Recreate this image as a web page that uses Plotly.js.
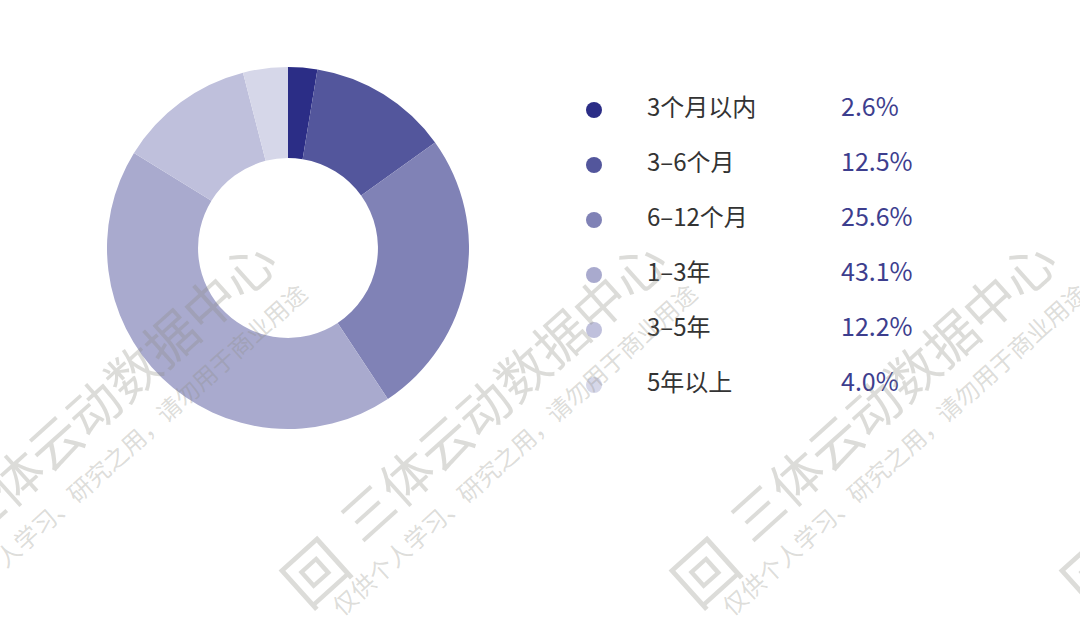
<!DOCTYPE html>
<html>
<head>
<meta charset="utf-8">
<script src="https://cdn.plot.ly/plotly-3.0.1.min.js"></script>
<style>html,body{margin:0;padding:0;background:#fff;}#chart{width:1080px;height:629px;}</style>
</head>
<body>
<div id="chart"></div>
<script>
// ---- data ----
var categories = ["3个月以内", "3–6个月", "6–12个月", "1–3年", "3–5年", "5年以上"];
var shares = [2.6, 12.5, 25.6, 43.1, 12.2, 4.0];
var shareLabels = ["2.6%", "12.5%", "25.6%", "43.1%", "12.2%", "4.0%"];
var colors = ["#2B2D86", "#53569C", "#8082B6", "#A9AACE", "#BFC0DC", "#D6D7E9"];

// ---- layout constants ----
var W = 1080, H = 629;
var FONT = "Noto Sans CJK SC, Noto Sans, sans-serif";
var dotX = 594, labelX = 647, pctX = 841;
var rowTop = 110, rowGap = 55;

var pie = {
  type: "pie",
  values: shares,
  labels: categories,
  sort: false,
  direction: "clockwise",
  rotation: 0,
  hole: 0.497,
  textinfo: "none",
  hoverinfo: "label+percent",
  showlegend: false,
  marker: { colors: colors, line: { width: 0 } },
  domain: { x: [107 / W, 469 / W], y: [(H - 429) / H, (H - 67) / H] }
};

var dots = {
  type: "scatter", mode: "markers",
  x: categories.map(function () { return dotX; }),
  y: categories,
  marker: { size: 16, color: colors },
  hoverinfo: "skip", showlegend: false, cliponaxis: false
};
var labelsTrace = {
  type: "scatter", mode: "text",
  x: categories.map(function () { return labelX; }),
  y: categories,
  text: categories,
  textposition: "middle right",
  textfont: { family: FONT, size: 24, color: "#333333" },
  hoverinfo: "skip", showlegend: false, cliponaxis: false
};
var pctTrace = {
  type: "scatter", mode: "text",
  x: categories.map(function () { return pctX; }),
  y: categories,
  text: shareLabels,
  textposition: "middle right",
  textfont: { family: FONT, size: 25, color: "#3D3E8E" },
  hoverinfo: "skip", showlegend: false, cliponaxis: false
};

// watermark annotations (decoration)
var wmColor = "rgba(140,140,130,0.30)";
var annotations = [];
function wm(ox, oy) {
  function P(px, py) { return { x: (px + ox) / W, y: 1 - (py + oy) / H }; }
  var a = P(501, 388);
  annotations.push({ xref: "paper", yref: "paper", x: a.x, y: a.y, xanchor: "center", yanchor: "middle",
    text: "三体云动数据中心", showarrow: false, textangle: -42,
    font: { family: FONT, size: 52, color: wmColor } });
  var b = P(514, 449);
  annotations.push({ xref: "paper", yref: "paper", x: b.x, y: b.y, xanchor: "center", yanchor: "middle",
    text: "仅供个人学习、研究之用，请勿用于商业用途", showarrow: false, textangle: -42,
    font: { family: FONT, size: 24, color: wmColor } });
  var c = P(313, 570);
  annotations.push({ xref: "paper", yref: "paper", x: c.x, y: c.y, xanchor: "center", yanchor: "middle",
    text: "回", showarrow: false, textangle: -42,
    font: { family: FONT, size: 62, color: wmColor } });
}
[-390, 0, 390, 780].forEach(function (dx) { wm(dx, 0); });

var layout = {
  width: W, height: H,
  margin: { l: 0, r: 0, t: 0, b: 0 },
  paper_bgcolor: "#ffffff", plot_bgcolor: "rgba(0,0,0,0)",
  xaxis: { domain: [0, 1], range: [0, W], visible: false, fixedrange: true },
  yaxis: { domain: [0, 1], type: "category", visible: false, fixedrange: true,
    range: [(H - rowTop) / rowGap, -rowTop / rowGap] },
  annotations: annotations,
  font: { family: FONT }
};

Plotly.newPlot("chart", [pie, dots, labelsTrace, pctTrace], layout, { displayModeBar: false, staticPlot: true });
</script>
</body>
</html>
